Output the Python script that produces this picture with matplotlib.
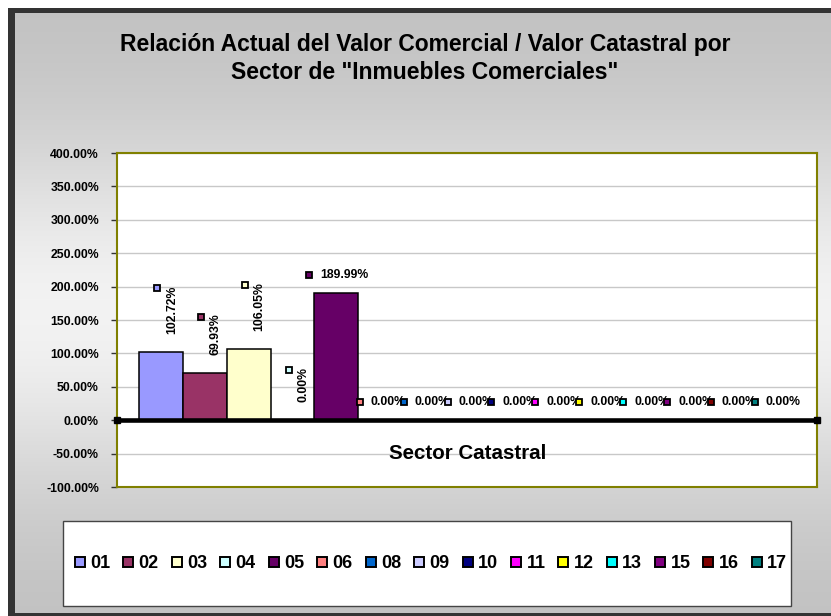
import numpy as np
import matplotlib
matplotlib.use('Agg')
import matplotlib.pyplot as plt
from matplotlib.patches import Rectangle
from matplotlib.lines import Line2D
from matplotlib.transforms import offset_copy

plt.rcParams['font.family'] = ['Liberation Sans', 'DejaVu Sans']
plt.rcParams['font.weight'] = 'bold'

# data
sectors = ['01', '02', '03', '04', '05', '06', '08', '09', '10', '11', '12', '13', '15', '16', '17']
ratios = [102.72, 69.93, 106.05, 0.00, 189.99, 0.00, 0.00, 0.00, 0.00, 0.00, 0.00, 0.00, 0.00, 0.00, 0.00]
colors = ['#9999FF', '#993366', '#FFFFCC', '#CCFFFF', '#660066', '#FF8080', '#0066CC', '#CCCCFF',
          '#000080', '#FF00FF', '#FFFF00', '#00FFFF', '#800080', '#800000', '#008080']
rotated = [True, True, True, True] + [False] * 11
yticks = [-100, -50, 0, 50, 100, 150, 200, 250, 300, 350, 400]

W, H = 831, 616
fig = plt.figure(figsize=(W / 100, H / 100), dpi=100, facecolor='white')

# gradient background of the chart area
bg = fig.add_axes([8 / W, 0, 1 - 8 / W, 1 - 8 / H], zorder=0)
t = np.linspace(0, 1, 256)
g = 0.75 + 0.20 * np.exp(-((t - 0.5) / 0.3) ** 2)
grad = np.repeat(g[:, None], 4, axis=1)
bg.imshow(np.dstack([grad, grad, grad]), aspect='auto', extent=[0, 1, 0, 1],
          interpolation='bilinear')
bg.set_xlim(0, 1)
bg.set_ylim(0, 1)
bg.axis('off')

# dark frame on left, top and bottom
for rx, ry, rw, rh in [(8, 0, 7, 608), (8, 603, 823, 5), (8, 0, 823, 3)]:
    fig.patches.append(Rectangle((rx / W, ry / H), rw / W, rh / H, transform=fig.transFigure,
                                 facecolor='#333333', edgecolor='none', zorder=1))

ax = fig.add_axes([117 / W, 1 - 487 / H, 700 / W, 334 / H], zorder=2)
ax.set_facecolor('white')
x = np.arange(len(sectors))
ax.bar(x, ratios, width=1.0, color=colors, edgecolor='black', linewidth=1.1, zorder=3)

ax.set_xlim(-1.0, 14.95)
ax.set_ylim(-100, 400)
ax.set_yticks(yticks)
ax.set_yticklabels(['%.2f%%' % v for v in yticks], fontsize=8.8, fontweight='bold')
ax.set_xticks([])
ax.tick_params(axis='y', length=4, width=1, pad=9, color='#333333')
ax.yaxis.grid(True, color='#c8c8c8', linewidth=1)
ax.set_axisbelow(True)
for s in ax.spines.values():
    s.set_color('#808000')
    s.set_linewidth(1.5)

# zero axis line
ax.plot([-1.0, 14.95], [0, 0], color='black', linewidth=3.3, marker='s', markersize=4,
        clip_on=False, zorder=4)

ax.text(7, -50, 'Sector Catastral', fontsize=14.8, fontweight='bold',
        ha='center', va='center', zorder=5)

# data labels
labels = []
for xi, v, rot in zip(x, ratios, rotated):
    if rot:
        tr = offset_copy(ax.transData, fig=fig, x=11, y=18, units='dots')
        tx = ax.text(xi, v, '%.2f%%' % v, transform=tr, rotation=90, ha='center', va='bottom',
                     fontsize=8.8, fontweight='bold', zorder=6)
    else:
        tr = offset_copy(ax.transData, fig=fig, x=8, y=18.5, units='dots')
        tx = ax.text(xi, v, '%.2f%%' % v, transform=tr, ha='center', va='center',
                     fontsize=8.8, fontweight='bold', zorder=6)
    labels.append(tx)

fig.canvas.draw()
renderer = fig.canvas.get_renderer()
inv = ax.transData.inverted()
for xi, v, rot, c, tx in zip(x, ratios, rotated, colors, labels):
    bb = tx.get_window_extent(renderer)
    bx, by = ax.transData.transform((xi, v))
    if rot:
        px, py = bx - 4, bb.y1 - 3
    else:
        px, py = bb.x0 - 11, by + 18.5
    mx, my = inv.transform((px, py))
    ax.plot(mx, my, marker='s', markersize=5, markerfacecolor=c, markeredgecolor='black',
            markeredgewidth=1.3, linestyle='none', zorder=7, clip_on=False)

# title
fig.text(425 / W, 1 - 58.5 / H,
         'Relación Actual del Valor Comercial / Valor Catastral por\nSector de "Inmuebles Comerciales"',
         ha='center', va='center', fontsize=16.5, fontweight='bold', linespacing=1.25)

# legend box
fig.patches.append(Rectangle((63 / W, 1 - 606 / H), 728 / W, 85 / H, transform=fig.transFigure,
                             facecolor='white', edgecolor='#444444', linewidth=1, zorder=1))
handles = [Line2D([], [], marker='s', markersize=7, markerfacecolor=c, markeredgecolor='black',
                  markeredgewidth=1.4, linestyle='none') for c in colors]
fig.legend(handles, sectors, loc='center', bbox_to_anchor=(431 / W, 1 - 564 / H), ncol=len(sectors),
           frameon=False, prop={'weight': 'bold', 'size': 13}, handlelength=0.55,
           handletextpad=0.3, columnspacing=0.72, borderpad=0)

fig.savefig('out.png', dpi=100, facecolor='white')
